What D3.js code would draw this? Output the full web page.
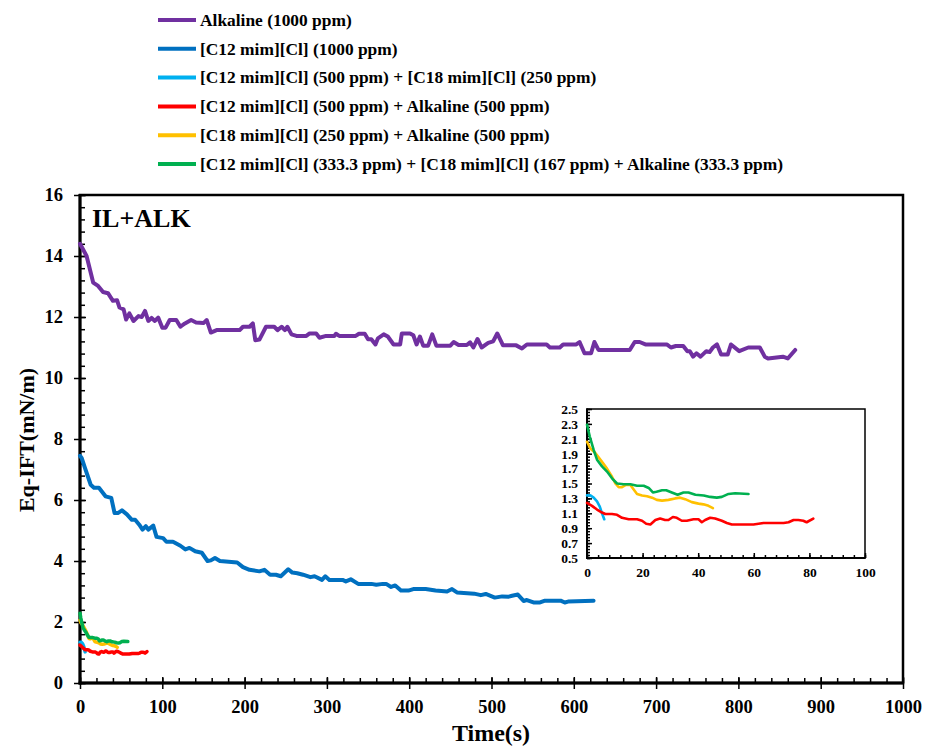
<!DOCTYPE html>
<html>
<head>
<meta charset="utf-8">
<script src="https://cdn.jsdelivr.net/npm/d3@7"></script>
<style>
  body { margin: 0; background: #fff; }
  svg text { font-family: "Liberation Serif", "Times New Roman", serif; font-weight: bold; fill: #000; }
</style>
</head>
<body>
<svg id="chart" width="925" height="746"></svg>
<script>
// series labels + colours
const seriesNames = [
  "Alkaline (1000 ppm)",
  "[C12 mim][Cl] (1000 ppm)",
  "[C12 mim][Cl] (500 ppm) + [C18 mim][Cl] (250 ppm)",
  "[C12 mim][Cl] (500 ppm) + Alkaline (500 ppm)",
  "[C18 mim][Cl] (250 ppm) + Alkaline (500 ppm)",
  "[C12 mim][Cl] (333.3 ppm) + [C18 mim][Cl] (167 ppm) + Alkaline (333.3 ppm)"
];
const seriesColors = ["#7030A0", "#0070C0", "#00B0F0", "#FF0000", "#FFC000", "#00B050"];

// [time (s), Eq-IFT (mN/m)]
const alkaline1000 = [[0,14.4],[8,14.0],[16,13.13],[22,13.02],[28,12.82],[34,12.78],[40,12.53],[45,12.55],[48,12.31],[53,12.25],[56,11.92],[60,12.12],[65,11.87],[71,12.03],[75,12.0],[79,12.2],[83,11.87],[87,11.97],[91,11.87],[95,11.98],[100,11.65],[104,11.65],[109,11.9],[117,11.9],[122,11.68],[127,11.78],[135,11.9],[141,11.82],[150,11.8],[154,11.9],[159,11.49],[166,11.57],[194,11.57],[198,11.68],[206,11.68],[210,11.79],[213,11.24],[218,11.26],[226,11.68],[236,11.68],[240,11.57],[245,11.68],[249,11.57],[252,11.68],[257,11.43],[263,11.38],[275,11.38],[279,11.46],[287,11.46],[291,11.32],[299,11.38],[309,11.38],[311,11.45],[315,11.38],[335,11.38],[339,11.45],[346,11.45],[350,11.27],[354,11.27],[359,11.1],[362,11.3],[369,11.43],[374,11.36],[381,11.1],[389,11.1],[391,11.46],[401,11.46],[405,11.4],[409,11.1],[413,11.36],[417,11.06],[423,11.06],[428,11.43],[433,11.06],[450,11.06],[454,11.18],[460,11.08],[470,11.08],[474,11.17],[478,11.0],[483,11.28],[488,11.0],[496,11.15],[502,11.2],[507,11.46],[514,11.07],[530,11.07],[537,10.97],[543,11.1],[567,11.1],[571,11.0],[583,11.0],[587,11.1],[603,11.1],[607,11.18],[613,10.81],[621,10.81],[625,11.18],[630,10.92],[668,10.92],[674,11.18],[680,11.18],[687,11.1],[713,11.1],[718,11.0],[724,11.05],[733,11.05],[738,10.88],[741,10.88],[745,10.7],[749,10.81],[754,10.7],[761,10.88],[765,10.85],[769,11.0],[774,11.1],[779,10.77],[787,10.77],[791,11.1],[801,10.88],[812,11.0],[826,11.0],[832,10.7],[836,10.64],[854,10.7],[860,10.64],[869,10.92]];

const c12_1000 = [[0,7.45],[2,7.38],[6,7.05],[13,6.5],[17,6.4],[23,6.4],[31,6.12],[38,6.07],[42,5.57],[46,5.57],[51,5.66],[57,5.53],[63,5.35],[67,5.35],[72,5.19],[76,5.03],[80,5.14],[83,5.03],[89,5.16],[93,4.79],[101,4.75],[105,4.63],[113,4.63],[122,4.5],[128,4.38],[133,4.43],[140,4.32],[148,4.27],[155,4.0],[159,4.02],[164,4.1],[170,4.0],[191,3.95],[198,3.8],[206,3.71],[218,3.66],[224,3.71],[231,3.55],[238,3.55],[244,3.5],[253,3.73],[258,3.62],[264,3.6],[271,3.55],[280,3.47],[285,3.5],[294,3.38],[298,3.5],[303,3.38],[319,3.38],[323,3.33],[329,3.4],[338,3.25],[354,3.25],[360,3.22],[368,3.25],[372,3.25],[378,3.15],[383,3.2],[390,3.03],[399,3.03],[405,3.08],[420,3.08],[432,3.03],[446,3.0],[452,3.08],[458,2.97],[479,2.93],[487,2.88],[493,2.92],[504,2.8],[513,2.84],[521,2.83],[525,2.86],[532,2.9],[539,2.69],[543,2.72],[551,2.64],[559,2.64],[565,2.7],[584,2.7],[589,2.64],[593,2.67],[624,2.7]];

const c12_500_c18_250 = [[0,1.34],[1.2,1.34],[2.4,1.31],[3.6,1.26],[4.6,1.19],[5.4,1.10],[6.2,1.02]];

const c12_500_alk_500 = [[0,1.24],[1.8,1.20],[3.6,1.15],[5.4,1.11],[6.6,1.09],[9,1.09],[10.8,1.08],[12.6,1.04],[15,1.02],[18,1.02],[19.8,1.0],[21.3,0.96],[22.8,0.95],[24.6,1.01],[26.3,1.03],[28.1,1.01],[29.3,1.01],[30.9,1.05],[32.3,1.04],[34.1,1.0],[35.9,1.0],[38.3,1.02],[40.1,1.02],[41.3,0.98],[42.5,1.01],[44.3,1.04],[46.1,1.03],[48.5,1.0],[50.3,0.97],[52.1,0.95],[55.1,0.95],[59.9,0.95],[63.5,0.97],[67,0.97],[70.7,0.97],[72.5,0.98],[74.3,1.01],[76,1.01],[77.8,1.0],[79,0.98],[81.4,1.03]];

const c18_250_alk_500 = [[0,2.06],[1.2,1.97],[3,1.91],[5.4,1.79],[7.2,1.70],[9,1.59],[10.2,1.50],[11.4,1.45],[12.6,1.45],[14,1.48],[15.6,1.48],[16.8,1.42],[18,1.36],[19.8,1.34],[21.6,1.33],[23.4,1.31],[25.1,1.28],[27,1.27],[29.3,1.28],[31.7,1.30],[33.5,1.31],[35.3,1.29],[37.7,1.25],[40.1,1.23],[41.9,1.22],[43.7,1.20],[45.3,1.17]];

const mix3 = [[0,2.29],[1,2.13],[2.4,1.95],[3.6,1.82],[5.4,1.73],[7.2,1.66],[9,1.57],[10.8,1.50],[13.2,1.49],[15.6,1.49],[18,1.47],[20.4,1.47],[22.2,1.44],[23.7,1.38],[25,1.39],[27,1.41],[28.5,1.41],[30.5,1.38],[32.6,1.35],[34.7,1.38],[36.5,1.38],[39,1.35],[42,1.34],[44.3,1.32],[46.7,1.31],[48.5,1.32],[50.9,1.36],[53.3,1.37],[58.1,1.36]];

const allSeries = [alkaline1000, c12_1000, c12_500_c18_250, c12_500_alk_500, c18_250_alk_500, mix3];
const insetSeries = [2, 3, 4, 5];

const xTicksMain = d3.range(0, 1001, 100);
const yTicksMain = d3.range(0, 17, 2);
const xTicksInset = d3.range(0, 101, 20);
const yTicksInset = [0.5, 0.7, 0.9, 1.1, 1.3, 1.5, 1.7, 1.9, 2.1, 2.3, 2.5];

const svg = d3.select("#chart");

// main plot
const x = d3.scaleLinear().domain([0, 1000]).range([80, 903]);
const y = d3.scaleLinear().domain([0, 16]).range([683, 195]);

const line = d3.line().x(d => x(d[0])).y(d => y(d[1]));

function styleAxis(g, size) {
  g.select(".domain").remove();
  g.selectAll("line").attr("stroke", "#000").attr("stroke-width", 1.5);
  g.selectAll("text").style("font-size", size + "px");
}

// minor ticks (inside)
svg.append("g").attr("transform", "translate(0,683)")
  .call(d3.axisBottom(x).tickValues(d3.range(0, 1001, 20)).tickSize(-5).tickFormat(""))
  .call(g => styleAxis(g, 0));
svg.append("g").attr("transform", "translate(80,0)")
  .call(d3.axisLeft(y).tickValues(d3.range(0, 16.01, 0.4)).tickSize(-5).tickFormat(""))
  .call(g => styleAxis(g, 0));
// major ticks crossing
svg.append("g").attr("transform", "translate(0,683)")
  .call(d3.axisBottom(x).tickValues(xTicksMain).tickSize(-6).tickFormat(""))
  .call(g => styleAxis(g, 0));
svg.append("g").attr("transform", "translate(80,0)")
  .call(d3.axisLeft(y).tickValues(yTicksMain).tickSize(-6).tickFormat(""))
  .call(g => styleAxis(g, 0));
svg.append("g").attr("transform", "translate(0,683)")
  .call(d3.axisBottom(x).tickValues(xTicksMain).tickSize(6).tickPadding(11).tickFormat(d3.format("d")))
  .call(g => styleAxis(g, 18.5));
svg.append("g").attr("transform", "translate(80,0)")
  .call(d3.axisLeft(y).tickValues(yTicksMain).tickSize(6).tickPadding(11).tickFormat(d3.format("d")))
  .call(g => styleAxis(g, 18.5));

// frame
svg.append("rect").attr("x", 80).attr("y", 195).attr("width", 823).attr("height", 488)
  .attr("fill", "none").attr("stroke", "#000").attr("stroke-width", 2.5);
svg.append("line").attr("x1", 80).attr("x2", 80).attr("y1", 194).attr("y2", 684.5)
  .attr("stroke", "#000").attr("stroke-width", 3);
svg.append("line").attr("x1", 78.5).attr("x2", 904).attr("y1", 683).attr("y2", 683)
  .attr("stroke", "#000").attr("stroke-width", 3);

// main lines
const mainG = svg.append("g");
allSeries.forEach((s, i) => {
  mainG.append("path").datum(s)
    .attr("d", line)
    .attr("fill", "none")
    .attr("stroke", seriesColors[i])
    .attr("stroke-width", i < 2 ? 4 : 3.5)
    .attr("stroke-linejoin", "round")
    .attr("stroke-linecap", "round");
});

// annotation
svg.append("text").attr("x", 92).attr("y", 227).style("font-size", "26px").text("IL+ALK");

// axis titles
svg.append("text").attr("x", 491).attr("y", 741).attr("text-anchor", "middle")
  .style("font-size", "24px").text("Time(s)");
svg.append("text").attr("transform", "translate(34,440) rotate(-90)").attr("text-anchor", "middle")
  .style("font-size", "22px").text("Eq-IFT(mN/m)");

// inset
const xi = d3.scaleLinear().domain([0, 100]).range([587, 865]);
const yi = d3.scaleLinear().domain([0.5, 2.5]).range([558, 409]);
const lineI = d3.line().x(d => xi(d[0])).y(d => yi(d[1]));

svg.append("rect").attr("x", 587).attr("y", 409).attr("width", 278).attr("height", 149)
  .attr("fill", "#fff").attr("stroke", "#000").attr("stroke-width", 1.5);

svg.append("g").attr("transform", "translate(0,558)")
  .call(d3.axisBottom(xi).tickValues(d3.range(0, 101, 4)).tickSize(-3).tickFormat(""))
  .call(g => styleAxis(g, 0));
svg.append("g").attr("transform", "translate(587,0)")
  .call(d3.axisLeft(yi).tickValues(d3.range(0.5, 2.501, 0.04)).tickSize(-3).tickFormat(""))
  .call(g => styleAxis(g, 0));
svg.append("g").attr("transform", "translate(0,558)")
  .call(d3.axisBottom(xi).tickValues(xTicksInset).tickSize(-5).tickPadding(14).tickFormat(d3.format("d")))
  .call(g => { styleAxis(g, 13.5); g.selectAll("text").attr("dy", "0.71em").attr("y", 9); });
svg.append("g").attr("transform", "translate(587,0)")
  .call(d3.axisLeft(yi).tickValues(yTicksInset).tickSize(-5).tickFormat(d3.format(".1f")))
  .call(g => { styleAxis(g, 13.5); g.selectAll("text").attr("x", -9); });

svg.append("line").attr("x1", 587).attr("x2", 587).attr("y1", 408.5).attr("y2", 559)
  .attr("stroke", "#000").attr("stroke-width", 2);
svg.append("line").attr("x1", 586).attr("x2", 865.5).attr("y1", 558).attr("y2", 558)
  .attr("stroke", "#000").attr("stroke-width", 2);

insetSeries.forEach(i => {
  svg.append("path").datum(allSeries[i])
    .attr("d", lineI)
    .attr("fill", "none")
    .attr("stroke", seriesColors[i])
    .attr("stroke-width", 2.6)
    .attr("stroke-linejoin", "round")
    .attr("stroke-linecap", "round");
});

// legend
const legendY = d3.scalePoint().domain(d3.range(seriesNames.length)).range([20, 164]);
const leg = svg.append("g").selectAll("g").data(seriesNames).join("g")
  .attr("transform", (d, i) => `translate(0,${legendY(i)})`);
leg.append("line").attr("x1", 158).attr("x2", 196).attr("y1", 0).attr("y2", 0)
  .attr("stroke", (d, i) => seriesColors[i]).attr("stroke-width", 4);
leg.append("text").attr("x", 200).attr("y", 5.8).style("font-size", "17.4px").text(d => d);
</script>
</body>
</html>
